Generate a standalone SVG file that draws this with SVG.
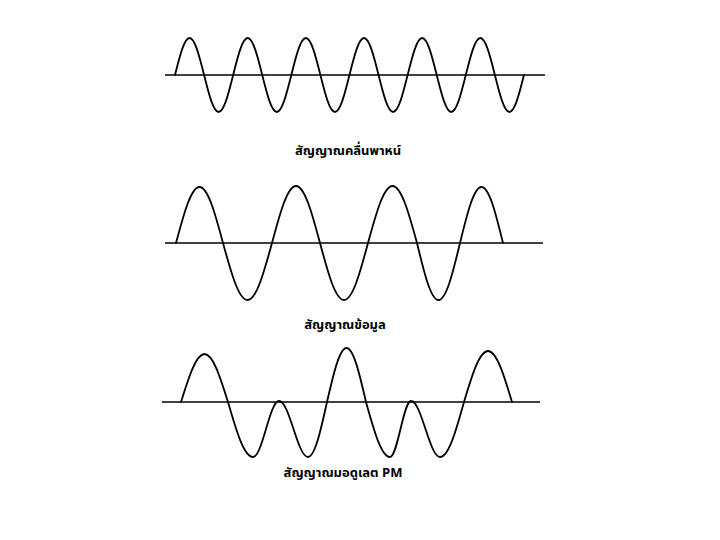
<svg xmlns="http://www.w3.org/2000/svg" width="720" height="540" viewBox="0 0 720 540">
<style>
.axis{stroke:#000;stroke-width:1.6;fill:none}
.wave{stroke:#000;stroke-width:1.8;fill:none;stroke-linecap:round;stroke-linejoin:round}
.lbl{font-family:"Noto Sans Thai","Noto Sans","DejaVu Sans",sans-serif;font-size:13px;font-weight:bold;fill:#000;text-anchor:middle}
</style>
<rect width="720" height="540" fill="#fff"/>
<g id="carrier">
<line class="axis" x1="165" y1="75" x2="545" y2="75"/>
<path class="wave" d="M175,75
c4.74,-18.96 9.28,-37 14.54,-37 c5.26,0 9.80,18.04 14.54,37 c4.74,18.96 9.28,37 14.54,37 c5.26,0 9.80,-18.04 14.54,-37
c4.74,-18.96 9.28,-37 14.54,-37 c5.26,0 9.80,18.04 14.54,37 c4.74,18.96 9.28,37 14.54,37 c5.26,0 9.80,-18.04 14.54,-37
c4.74,-18.96 9.28,-37 14.54,-37 c5.26,0 9.80,18.04 14.54,37 c4.74,18.96 9.28,37 14.54,37 c5.26,0 9.80,-18.04 14.54,-37
c4.74,-18.96 9.28,-37 14.54,-37 c5.26,0 9.80,18.04 14.54,37 c4.74,18.96 9.28,37 14.54,37 c5.26,0 9.80,-18.04 14.54,-37
c4.74,-18.96 9.28,-37 14.54,-37 c5.26,0 9.80,18.04 14.54,37 c4.74,18.96 9.28,37 14.54,37 c5.26,0 9.80,-18.04 14.54,-37
c4.74,-18.96 9.28,-37 14.54,-37 c5.26,0 9.80,18.04 14.54,37 c4.74,18.96 9.28,37 14.54,37 c5.26,0 9.80,-18.04 14.54,-37"/>
<text class="lbl" x="348" y="155">สัญญาณคลื่นพาหน์</text>
</g>
<g id="data">
<line class="axis" x1="165" y1="243" x2="543" y2="243"/>
<path class="wave" d="M176,243
c7.66,-28.69 15.00,-56 23.5,-56 c8.50,0 15.84,27.31 23.5,56
c7.99,29.20 15.63,57 24.5,57 c8.87,0 16.51,-27.80 24.5,-57
c7.83,-29.20 15.31,-57 24,-57 c8.69,0 16.17,27.80 24,57
c7.83,29.20 15.31,57 24,57 c8.69,0 16.17,-27.80 24,-57
c7.99,-29.20 15.63,-57 24.5,-57 c8.87,0 16.51,27.80 24.5,57
c7.01,29.20 13.72,57 21.5,57 c7.78,0 14.49,-27.80 21.5,-57
c7.01,-28.69 13.72,-56 21.5,-56 c7.78,0 14.49,27.31 21.5,56"/>
<text class="lbl" x="345" y="329">สัญญาณข้อมูล</text>
</g>
<g id="modulated">
<line class="axis" x1="162" y1="402" x2="540" y2="402"/>
<path class="wave" d="M181,402
c7.66,-24.59 15.00,-48 23.5,-48 c8.50,0 15.84,23.41 23.5,48
c8.15,28.18 15.95,55 25,55
c9.45,0 16.55,-56 26,-56
c10.54,0 18.46,56 29,56
c6.88,0 12.80,-26.82 19,-55
c6.36,-27.66 12.44,-54 19.5,-54 c7.06,0 13.14,26.34 19.5,54
c7.83,28.18 15.31,55 24,55
c7.63,0 13.37,-56 21,-56
c10.54,0 18.46,56 29,56
c8.69,0 16.17,-26.82 24,-55
c7.83,-26.13 15.31,-51 24,-51 c8.69,0 16.17,24.87 24,51"/>
<text class="lbl" x="343" y="477">สัญญาณมอดูเลต PM</text>
</g>
</svg>
